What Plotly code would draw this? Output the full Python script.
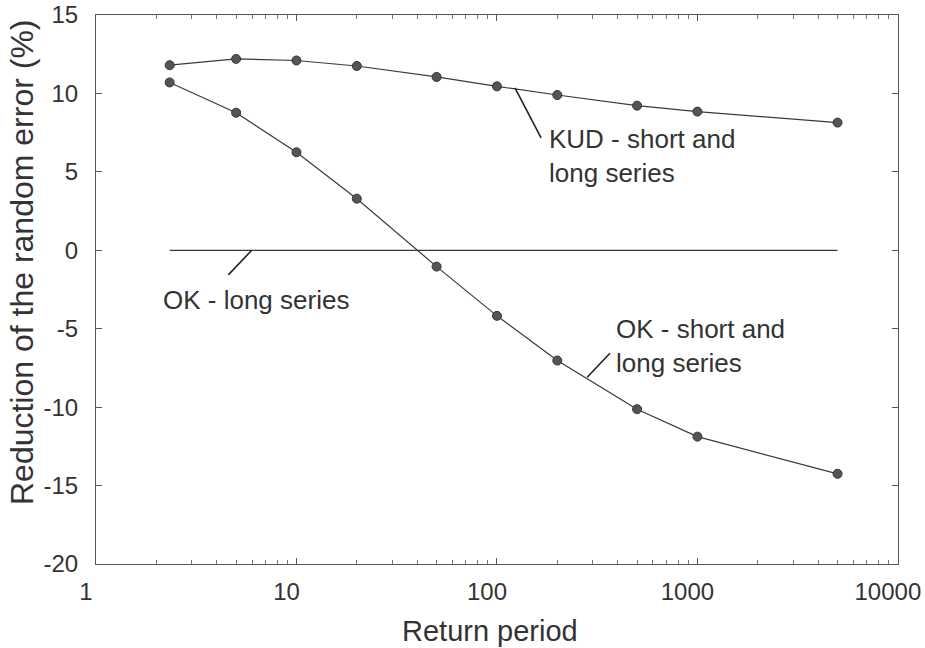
import plotly.graph_objects as go

# Data
return_period = [2.33, 5, 10, 20, 50, 100, 200, 500, 1000, 5000]
kud_short_long = [11.8, 12.2, 12.1, 11.75, 11.05, 10.45, 9.9, 9.22, 8.84, 8.14]
ok_short_long = [10.7, 8.77, 6.25, 3.29, -1.04, -4.18, -7.03, -10.13, -11.88, -14.25]
ok_long_x = [2.33, 5000]
ok_long = [0, 0]

x_ticks = [1, 10, 100, 1000, 10000]
x_ticktext = ["1", "10", "100", "1000", "10000"]
y_ticks = [-20, -15, -10, -5, 0, 5, 10, 15]
y_ticktext = ["-20", "-15", "-10", "-5", "0", "5", "10", "15"]
x_minor = [m * d for d in (1, 10, 100, 1000) for m in range(2, 10)]

# leader lines (data coords)
kud_leader_x = [123, 166]
kud_leader_y = [10.35, 7.16]
okl_leader_x = [5.98, 4.57]
okl_leader_y = [0, -1.57]
oks_leader_x = [282, 366]
oks_leader_y = [-8.09, -6.56]

FONT = "Liberation Sans, Arial, Helvetica, sans-serif"
TXT = "#333333"
LINE = "#3a3a3a"

fig = go.Figure()
fig.add_trace(go.Scatter(x=ok_long_x, y=ok_long, mode="lines",
                         line=dict(color=LINE, width=1.2), hoverinfo="skip"))
fig.add_trace(go.Scatter(x=return_period, y=kud_short_long, mode="lines+markers",
                         line=dict(color=LINE, width=1.2),
                         marker=dict(size=9, color="#555555", line=dict(color="#333333", width=1))))
fig.add_trace(go.Scatter(x=return_period, y=ok_short_long, mode="lines+markers",
                         line=dict(color=LINE, width=1.2),
                         marker=dict(size=9, color="#555555", line=dict(color="#333333", width=1))))
for lx, ly in [(kud_leader_x, kud_leader_y), (okl_leader_x, okl_leader_y), (oks_leader_x, oks_leader_y)]:
    fig.add_trace(go.Scatter(x=lx, y=ly, mode="lines", line=dict(color="#222222", width=1.6),
                             hoverinfo="skip"))

ann_font = dict(family=FONT, size=26, color=TXT)
fig.add_annotation(x=2.252, y=6.0, xref="x", yref="y", text="KUD - short and<br>long series",
                   showarrow=False, xanchor="left", yanchor="middle", align="left", font=ann_font)
fig.add_annotation(x=0.325, y=-3.16, xref="x", yref="y", text="OK - long series",
                   showarrow=False, xanchor="left", yanchor="middle", align="left", font=ann_font)
fig.add_annotation(x=2.585, y=-6.1, xref="x", yref="y", text="OK - short and<br>long series",
                   showarrow=False, xanchor="left", yanchor="middle", align="left", font=ann_font)

# axis titles
fig.add_annotation(x=-0.0923, y=0.55, xref="paper", yref="paper",
                   text="Reduction of the random error (%)", textangle=-90,
                   showarrow=False, xanchor="center", yanchor="middle",
                   font=dict(family=FONT, size=32, color=TXT))
fig.add_annotation(x=0.491, y=-0.122, xref="paper", yref="paper",
                   text="Return period", showarrow=False, xanchor="center", yanchor="middle",
                   font=dict(family=FONT, size=29, color=TXT))

fig.update_layout(
    width=925, height=648,
    margin=dict(l=96, r=27, t=15, b=84, autoexpand=False),
    paper_bgcolor="white", plot_bgcolor="white",
    showlegend=False,
    font=dict(family=FONT, color=TXT),
)
fig.update_xaxes(type="log", range=[0, 4.0005], showgrid=False, zeroline=False,
                 automargin=False,
                 showline=True, linecolor="#555555", linewidth=1, mirror="ticks",
                 ticks="inside", ticklen=6, tickcolor="#555555",
                 tickvals=x_ticks, ticktext=x_ticktext,
                 ticklabelshift=-10, ticklabeloverflow="allow",
                 tickfont=dict(family=FONT, size=24, color=TXT), ticklabelstandoff=6,
                 minor=dict(tickvals=x_minor, ticks="inside", ticklen=4,
                            tickcolor="#777777", showgrid=False))
fig.update_yaxes(range=[-20, 15], showgrid=False, zeroline=False,
                 automargin=False,
                 showline=True, linecolor="#555555", linewidth=1, mirror="ticks",
                 ticks="inside", ticklen=6, tickcolor="#555555",
                 tickvals=y_ticks, ticktext=y_ticktext,
                 tickfont=dict(family=FONT, size=24, color=TXT), ticklabelstandoff=12)

fig.write_html("out.html")
